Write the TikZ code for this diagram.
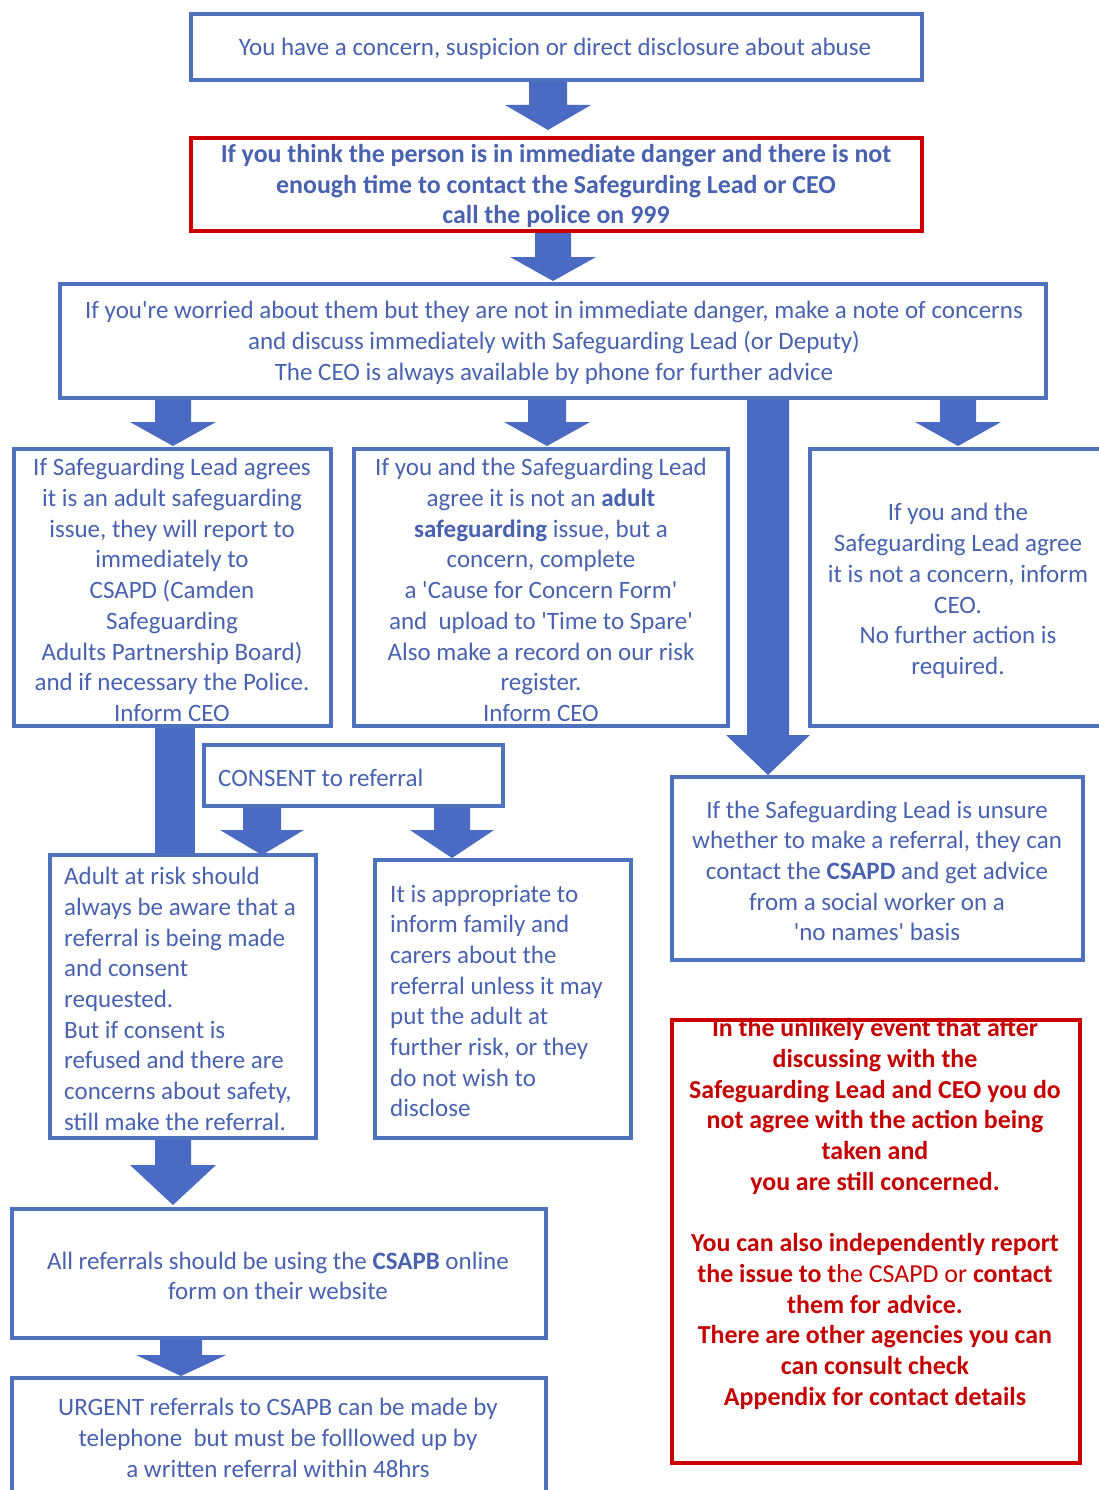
\documentclass[tikz,border=0pt]{standalone}
\usepackage{fontspec}
\setmainfont{Carlito}[Ligatures=TeXOff]
\usetikzlibrary{fit}
\definecolor{bord}{RGB}{79,114,190}
\definecolor{arwc}{RGB}{74,106,196}
\definecolor{txt}{RGB}{72,98,176}
\definecolor{redb}{RGB}{204,0,0}
\definecolor{redt}{RGB}{196,0,0}
\newcommand\fs{\fontsize{25}{30.7}\selectfont}
\newcommand\fsb{\fontsize{25.9}{30.7}\selectfont\bfseries}
\newcommand\barrow[6]{%
  \fill[arw] (#1-#5,#2) -- (#1+#5,#2) -- (#1+#5,#3) -- (#1+#6,#3) -- (#1,#4) -- (#1-#6,#3) -- (#1-#5,#3) -- cycle;}
\begin{document}
\begin{tikzpicture}[x=1pt,y=-1pt,
  bx/.style={draw=bord,line width=3.5pt,fill=white,inner sep=0pt},
  rbx/.style={draw=redb,line width=3.5pt,fill=white,inner sep=0pt},
  tx/.style={text=txt,inner sep=0pt,align=center,font=\fs},
  txl/.style={text=txt,inner sep=0pt,align=left,font=\fs,anchor=west},
  arw/.style={fill=arwc}]
\useasboundingbox (0,0) rectangle (1099,1490);
% block arrows
\barrow{548}{80}{105}{130}{19}{43}
\barrow{553}{231}{257}{281}{18}{43}
\barrow{173}{398}{422}{446}{18}{43}
\barrow{547}{398}{422}{446}{19}{43}
\barrow{768}{398}{735}{775}{21}{42}
\barrow{958}{398}{422}{446}{18}{43}
\fill[arw] (155,724) rectangle (195,857);
\barrow{262}{806}{830}{855}{19}{42}
\barrow{452}{806}{830}{858}{18}{42}
\barrow{173}{1138}{1165}{1205}{18}{43}
\barrow{181}{1338}{1355}{1376}{21}{45}
% boxes
\node[bx,fit={(191,14)(922,80)}] (b1) {};
\node[rbx,fit={(191,138)(922,231)}] (b2) {};
\node[bx,fit={(60,284)(1046,398)}] (b3) {};
\node[bx,fit={(14,449)(331,726)}] (b4a) {};
\node[bx,fit={(354,449)(728,726)}] (b4b) {};
\node[bx,fit={(810,449)(1115,726)}] (b4d) {};
\node[bx,fit={(204,745)(503,806)}] (bc) {};
\node[bx,fit={(50,855)(316,1138)}] (ba) {};
\node[bx,fit={(375,860)(631,1138)}] (bf) {};
\node[bx,fit={(672,777)(1083,960)}] (bu) {};
\node[rbx,fit={(672,1020)(1080,1463)}] (br) {};
\node[bx,fit={(12,1209)(546,1338)}] (bl) {};
\node[bx,fit={(12,1378)(546,1505)}] (bg) {};
% texts
\node[tx] (t1) at (555,49) {You have a concern, suspicion or direct disclosure about abuse};
\node[tx,font=\fsb] (t2) at (556,186) {If you think the person is in immediate danger and there is not\\enough time to contact the Safegurding Lead or CEO\\call the police on 999};
\node[tx] (t3) at (554,343) {If you're worried about them but they are not in immediate danger, make a note of concerns\\and discuss immediately with Safeguarding Lead (or Deputy)\\The CEO is always available by phone for further advice};
\node[tx] (t4a) at (172,590) {If Safeguarding Lead agrees\\it is an adult safeguarding\\issue, they will report to\\immediately to\\CSAPD (Camden\\Safeguarding\\Adults Partnership Board)\\and if necessary the Police.\\Inform CEO};
\node[tx] (t4b) at (541,590) {If you and the Safeguarding Lead\\agree it is not an \textbf{adult}\\\textbf{safeguarding} issue, but a\\concern, complete\\a 'Cause for Concern Form'\\and\ \ upload to 'Time to Spare'\\Also make a record on our risk\\register.\\Inform CEO};
\node[tx] (t4d) at (958,591) {If you and the\\Safeguarding Lead agree\\it is not a concern, inform\\CEO.\\No further action is\\required.};
\node[txl] (tc) at (218,778) {CONSENT to referral};
\node[txl] (ta) at (64,999) {Adult at risk should\\always be aware that a\\referral is being made\\and consent\\requested.\\But if consent is\\refused and there are\\concerns about safety,\\still make the referral.};
\node[txl] (tf) at (390,1001) {It is appropriate to\\inform family and\\carers about the\\referral unless it may\\put the adult at\\further risk, or they\\do not wish to\\disclose};
\node[tx] (tu) at (877,871) {If the Safeguarding Lead is unsure\\whether to make a referral, they can\\contact the \textbf{CSAPD} and get advice\\from a social worker on a\\'no names' basis};
\node[tx,text=redt,font=\fsb] (tr) at (875,1214) {In the unlikely event that after\\discussing with the\\Safeguarding Lead and CEO you do\\not agree with the action being\\taken and\\you are still concerned.\\[30.7pt]You can also independently report\\the issue to t\textmd{he CSAPD or} contact\\them for advice.\\There are other agencies you can\\can consult check\\Appendix for contact details};
\node[tx] (tl) at (278,1276) {All referrals should be using the \textbf{CSAPB} online\\form on their website};
\node[tx] (tg) at (278,1438) {URGENT referrals to CSAPB can be made by\\telephone\ \ but must be folllowed up by\\a written referral within 48hrs};
\end{tikzpicture}
\end{document}
